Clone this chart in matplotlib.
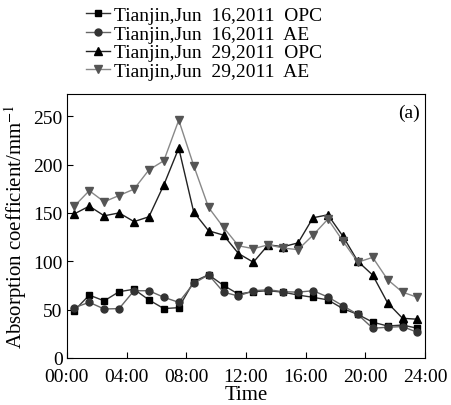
import matplotlib
matplotlib.use("Agg")
import matplotlib.pyplot as plt
import numpy as np

plt.rcParams['font.family'] = ['Liberation Serif', 'DejaVu Serif']
plt.rcParams['mathtext.fontset'] = 'stix'

hours = np.arange(24) + 0.5

opc_16 = [49, 65, 59, 68.5, 71, 60, 51, 52, 79, 86, 75, 66, 68.5,
          69.5, 68, 65, 62.7, 60, 51, 45, 37, 33, 34, 30.7]
ae_16 = [52, 57.5, 50.6, 51, 69.5, 69.5, 62.7, 57.5, 77, 86, 68, 64, 69.5,
         70.5, 68.5, 68, 69.5, 63, 54, 45, 30.7, 31.7, 32.4, 26.5]
opc_29 = [149, 157, 147, 150, 141, 146, 179, 217, 151, 131.5, 127, 108, 99,
          117, 115, 119, 145, 148, 126, 100, 85.7, 57, 41, 40]
ae_29 = [157, 173, 161.5, 168, 174.6, 194.5, 204, 246, 199, 155.6, 135, 116, 113,
         117, 113.6, 112, 127, 143.6, 121, 99, 104, 81, 68, 62.7]

labels = ['Tianjin,Jun  16,2011  OPC', 'Tianjin,Jun  16,2011  AE',
          'Tianjin,Jun  29,2011  OPC', 'Tianjin,Jun  29,2011  AE']
xtick_labels = ['00:00', '04:00', '08:00', '12:00', '16:00', '20:00', '24:00']

fig = plt.figure(figsize=(4.52, 4.06), dpi=100)
ax = fig.add_axes([0.148, 0.116, 0.792, 0.650])

ax.plot(hours, opc_16, color='#333333', marker='s', ms=5, mfc='black', mec='black', lw=1.0, label=labels[0])
ax.plot(hours, ae_16, color='#666666', marker='o', ms=5, mfc='#333333', mec='#333333', lw=1.0, label=labels[1])
ax.plot(hours, opc_29, color='#222222', marker='^', ms=5.5, mfc='black', mec='black', lw=1.0, label=labels[2])
ax.plot(hours, ae_29, color='#888888', marker='v', ms=5.5, mfc='#555555', mec='#555555', lw=1.0, label=labels[3])

ax.set_xlim(0, 24)
ax.set_ylim(0, 273)
ax.set_xticks(np.arange(0, 25, 4))
ax.set_xticklabels(xtick_labels)
ax.set_yticks(np.arange(0, 251, 50))
ax.tick_params(direction='in', labelsize=14, length=4, top=False, right=False)
ax.tick_params(axis='x', pad=7)
ax.tick_params(axis='y', pad=3)
ax.set_xlabel('Time', fontsize=15, labelpad=0)
ax.set_ylabel('Absorption coefficient/mm$^{-1}$', fontsize=15, labelpad=3)
ax.text(0.985, 0.965, '(a)', transform=ax.transAxes, ha='right', va='top', fontsize=14)

fig.legend(loc='upper left', bbox_to_anchor=(0.165, 1.01), frameon=False, fontsize=14,
           handlelength=1.2, handletextpad=0.25, labelspacing=0.05, borderaxespad=0.2)

fig.savefig('out.png', dpi=100)
